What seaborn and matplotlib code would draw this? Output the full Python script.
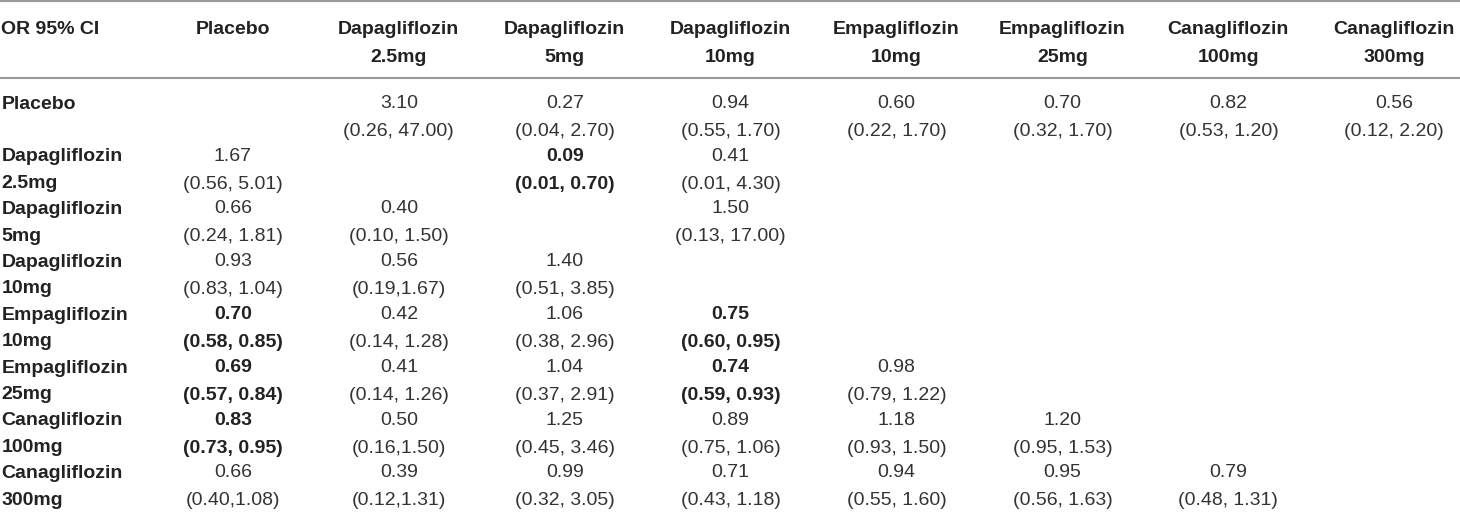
import numpy as np
import pandas as pd
import matplotlib
matplotlib.use("Agg")
import matplotlib.pyplot as plt
import seaborn as sns

# Данні таблиці (OR і 95% CI), рядок = препарат, колонка = порівняння
treatments = ["Placebo", "Dapagliflozin\n2.5mg", "Dapagliflozin\n5mg", "Dapagliflozin\n10mg",
              "Empagliflozin\n10mg", "Empagliflozin\n25mg", "Canagliflozin\n100mg", "Canagliflozin\n300mg"]
corner_label = "OR 95% CI"

# порожні клітинки = ""
cells = [
    ["", "3.10\n(0.26, 47.00)", "0.27\n(0.04, 2.70)", "0.94\n(0.55, 1.70)", "0.60\n(0.22, 1.70)", "0.70\n(0.32, 1.70)", "0.82\n(0.53, 1.20)", "0.56\n(0.12, 2.20)"],
    ["1.67\n(0.56, 5.01)", "", "0.09\n(0.01, 0.70)", "0.41\n(0.01, 4.30)", "", "", "", ""],
    ["0.66\n(0.24, 1.81)", "0.40\n(0.10, 1.50)", "", "1.50\n(0.13, 17.00)", "", "", "", ""],
    ["0.93\n(0.83, 1.04)", "0.56\n(0.19,1.67)", "1.40\n(0.51, 3.85)", "", "", "", "", ""],
    ["0.70\n(0.58, 0.85)", "0.42\n(0.14, 1.28)", "1.06\n(0.38, 2.96)", "0.75\n(0.60, 0.95)", "", "", "", ""],
    ["0.69\n(0.57, 0.84)", "0.41\n(0.14, 1.26)", "1.04\n(0.37, 2.91)", "0.74\n(0.59, 0.93)", "0.98\n(0.79, 1.22)", "", "", ""],
    ["0.83\n(0.73, 0.95)", "0.50\n(0.16,1.50)", "1.25\n(0.45, 3.46)", "0.89\n(0.75, 1.06)", "1.18\n(0.93, 1.50)", "1.20\n(0.95, 1.53)", "", ""],
    ["0.66\n(0.40,1.08)", "0.39\n(0.12,1.31)", "0.99\n(0.32, 3.05)", "0.71\n(0.43, 1.18)", "0.94\n(0.55, 1.60)", "0.95\n(0.56, 1.63)", "0.79\n(0.48, 1.31)", ""],
]

# статистично значущі (жирний шрифт): (рядок, колонка)
significant = [(1, 2), (4, 0), (4, 3), (5, 0), (5, 3), (6, 0)]

labels = np.array(cells)
df = pd.DataFrame(np.zeros(labels.shape), index=treatments, columns=treatments)

sns.set_theme(style="white")
plt.rcParams['font.family'] = ['Liberation Sans', 'DejaVu Sans']

text_color = "#222222"
fs = 14

fig = plt.figure(figsize=(14.6, 5.27), dpi=100)
ax = fig.add_axes([0, 0, 1, 1])

sns.heatmap(df, annot=labels, fmt="", cmap=["white"], cbar=False, ax=ax,
            annot_kws={"fontsize": fs, "color": "#333333", "linespacing": 1.85})

# жирний шрифт для значущих клітинок
for t in ax.texts:
    x, y = t.get_position()
    if (int(y), int(x)) in significant:
        t.set_fontweight("bold")
        t.set_color(text_color)

ax.set_xlim(-0.904, 7.896)
ax.set_ylim(8.26, -1.72)
ax.set_xticks([])
ax.set_yticks([])
for s in ax.spines.values():
    s.set_visible(False)

# заголовки колонок
ax.text(-0.895, -1.17, corner_label, ha="left", va="center", fontsize=fs,
        fontweight="bold", color=text_color)
for i, name in enumerate(treatments):
    for k, line in enumerate(name.split("\n")):
        ax.text(i + 0.5, -1.17 + 0.53 * k, line, ha="center", va="center",
                fontsize=fs, fontweight="bold", color=text_color)

# підписи рядків
for j, name in enumerate(treatments):
    for k, line in enumerate(name.split("\n")):
        ax.text(-0.895, j + 0.25 + 0.5 * k, line, ha="left", va="center",
                fontsize=fs, fontweight="bold", color=text_color)

ax.axhline(-1.70, color="#9a9a9a", lw=1.5)
ax.axhline(-0.242, color="#9a9a9a", lw=1.5)

plt.savefig("out.png", dpi=100)
